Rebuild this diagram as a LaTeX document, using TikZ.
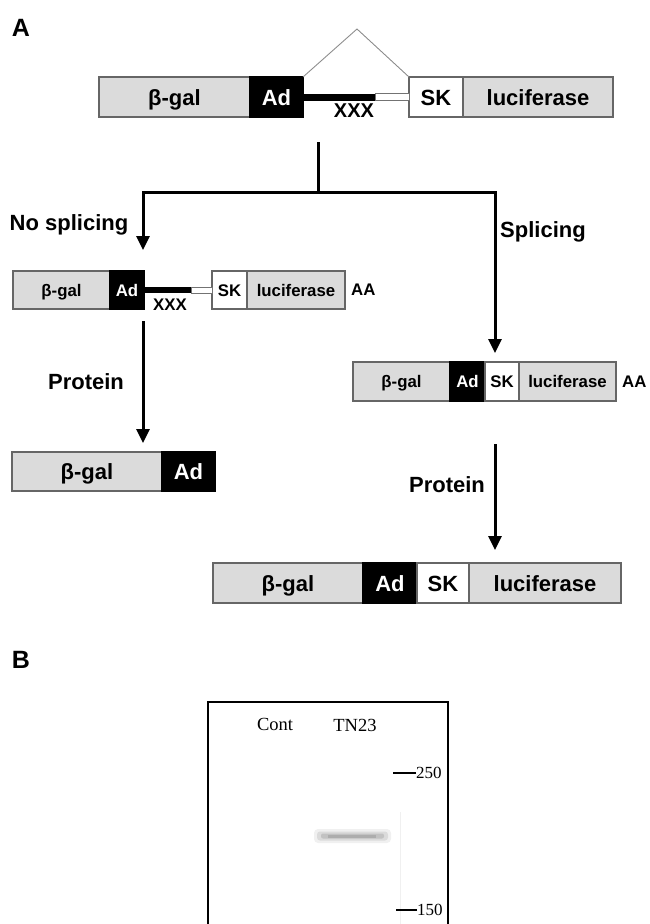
\documentclass[tikz,border=0pt]{standalone}
\usepackage{fontspec}
\setmainfont{Liberation Sans}
\newfontfamily\blotfont{Liberation Serif}
\usetikzlibrary{arrows.meta,positioning}
\def\intron(#1)(#2)(#3:#4){\fill ([yshift=#4]#1.east) rectangle ([xshift=-#3, yshift=-#4]#2.west); \draw[black!55, fill=white, line width=0.8pt] ([xshift=-#3, yshift=#4]#2.west) rectangle ([yshift=-#4]#2.west);}

\tikzset{
	seg/.style={draw=black!60, line width=1.3pt, inner sep=0pt, outer sep=0pt, minimum height=40pt, text height=16pt, text depth=0pt, font=\bfseries\fontsize{22}{24}\selectfont},
	smallseg/.style={seg, minimum height=38pt, text height=12pt, text depth=0pt, font=\bfseries\fontsize{16.8}{18}\selectfont},
	galpart/.style={fill=black!14},
	adpart/.style={fill=black, draw=black, text=white},
	skpart/.style={fill=white},
	wire/.style={line width=3pt},
	flow/.style={wire, -{Triangle[length=14pt, width=13pt]}},
	note/.style={inner sep=0pt, font=\bfseries\fontsize{22}{24}\selectfont},
	smallnote/.style={inner sep=0pt, font=\bfseries\fontsize{16.8}{18}\selectfont},
	panel/.style={inner sep=0pt, font=\bfseries\fontsize{25}{27}\selectfont},
	blot/.style={inner sep=0pt, font=\blotfont\fontsize{18.5}{20}\selectfont},
}

\begin{document}
\begin{tikzpicture}[x=1pt, y=-1pt]
		%%%%% START %%%%%
		\useasboundingbox (0,0) rectangle (649,924);
		
		\node[panel] (pa) at (21,28) {A};
		
		% construct
		\node[seg, galpart, minimum width=151pt, anchor=west] (gal1) at (99,97) {β-gal};
		\node[seg, adpart, minimum width=53pt, right=0pt of gal1] (ad1) {Ad};
		\node[seg, skpart, minimum width=54pt, right=106pt of ad1] (sk1) {SK};
		\node[seg, galpart, minimum width=150pt, right=0pt of sk1] (luc1) {luciferase};
		\intron(ad1)(sk1)(34pt:3.5pt)
		\node[note, font=\bfseries\fontsize{20}{22}\selectfont] (xxx1) at (354,111) {XXX};
		\draw[black!45, line width=0.9pt] (ad1.north east) -- (357,29) -- (sk1.north west);
		
		% split
		\coordinate (trunk) at (318,142);
		\coordinate (split) at (318,192);
		\coordinate (nosplice) at (143,250);
		\coordinate (splice) at (495,353);
		\draw[wire] (trunk) -- (split);
		\draw[flow] (split) -| (nosplice);
		\draw[flow] (split) -| (splice);
		\node[note] (nosp) at (69,225) {No splicing};
		\node[note, anchor=west] (sp) at (500,232) {Splicing};
		
		% no splicing
		\node[smallseg, galpart, minimum width=97pt, anchor=west] (gal2) at (13,290) {β-gal};
		\node[smallseg, adpart, minimum width=34pt, right=0pt of gal2] (ad2) {Ad};
		\node[smallseg, skpart, minimum width=35pt, right=68pt of ad2] (sk2) {SK};
		\node[smallseg, galpart, minimum width=98pt, right=0pt of sk2] (luc2) {luciferase};
		\intron(ad2)(sk2)(21pt:3pt)
		\node[smallnote] (xxx2) at (170,305) {XXX};
		\node[smallnote, right=6pt of luc2] (aa2) {AA};
		
		\coordinate (protL) at (143,321);
		\coordinate (protLend) at (143,443);
		\draw[flow] (protL) -- (protLend);
		\node[note] (prot1) at (86,382) {Protein};
		
		\node[seg, galpart, minimum width=150pt, minimum height=39pt, anchor=west] (gal4) at (12,471.5) {β-gal};
		\node[seg, adpart, minimum width=53pt, minimum height=39pt, right=0pt of gal4] (ad4) {Ad};
		
		% splicing
		\node[smallseg, galpart, minimum width=97pt, minimum height=39pt, anchor=west] (gal3) at (353,381.5) {β-gal};
		\node[smallseg, adpart, minimum width=35pt, minimum height=39pt, right=0pt of gal3] (ad3) {Ad};
		\node[smallseg, skpart, minimum width=34pt, minimum height=39pt, right=0pt of ad3] (sk3) {SK};
		\node[smallseg, galpart, minimum width=97pt, minimum height=39pt, right=0pt of sk3] (luc3) {luciferase};
		\node[smallnote, right=6pt of luc3] (aa3) {AA};
		
		\coordinate (protR) at (495,444);
		\coordinate (protRend) at (495,550);
		\draw[flow] (protR) -- (protRend);
		\node[note] (prot2) at (447,485) {Protein};
		
		\node[seg, galpart, minimum width=150pt, anchor=west] (gal5) at (213,583) {β-gal};
		\node[seg, adpart, minimum width=54pt, right=0pt of gal5] (ad5) {Ad};
		\node[seg, skpart, minimum width=52pt, right=0pt of ad5] (sk5) {SK};
		\node[seg, galpart, minimum width=152pt, right=0pt of sk5] (luc5) {luciferase};
		
		% blot
		\node[panel] (pb) at (21,660) {B};
		\draw[line width=2.6pt] (208,930) -- (208,702) -- (448,702) -- (448,930);
		\draw[black!6, line width=1pt] (400,812) -- (400,924);
		\node[blot] (cont) at (275,724) {Cont};
		\node[blot] (tn23) at (355,725) {TN23};
		\node[blot, font=\blotfont\fontsize{17}{19}\selectfont, anchor=west] (m250) at (416,773) {250};
		\node[blot, font=\blotfont\fontsize{17}{19}\selectfont, anchor=west] (m150) at (417,910) {150};
		\draw[line width=2pt] (m250.west) -- ++(-23,0);
		\draw[line width=2pt] (m150.west) -- ++(-21,0);
		\fill[black!6, rounded corners=4pt] (314,829) rectangle (391,843);
		\fill[black!14, rounded corners=3pt] (317,831.5) rectangle (388,840.5);
		\fill[black!24, rounded corners=2pt] (321,833.5) rectangle (384,838.5);
		\fill[black!32] (328,835) rectangle (376,837.5);
		
		%%%%% END %%%%%
\end{tikzpicture}
\end{document}
